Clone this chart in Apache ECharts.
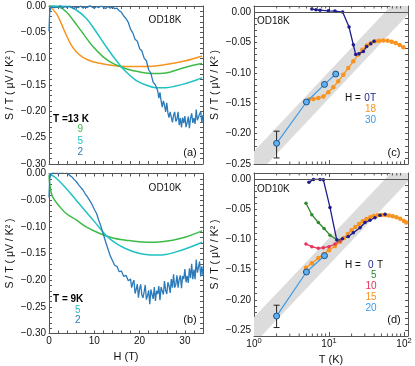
<!DOCTYPE html>
<html>
<head>
<meta charset="utf-8">
<script src="https://cdn.jsdelivr.net/npm/echarts@6/dist/echarts.min.js"></script>
<style>
  html, body { margin: 0; padding: 0; background: #fff; }
  #chart { width: 415px; height: 366px; }
</style>
</head>
<body>
<div id="chart"></div>
<script>
// ---------- (a) OD18K : S/T vs H ----------
const a13K = [[0,0],[1.6,-0.014],[2.7,-0.033],[3.8,-0.055],[4.9,-0.074],[6,-0.087],[7.5,-0.0976],[9.7,-0.106],[12.6,-0.111],[17,-0.115],[21.4,-0.115],[25.8,-0.111],[30.2,-0.104],[33.8,-0.095]];
const a9K = [[0,0],[2.35,-0.0025],[3.8,-0.0108],[5.3,-0.0266],[7.5,-0.052],[9.7,-0.077],[11.9,-0.096],[14.1,-0.109],[17,-0.119],[19.9,-0.125],[22.9,-0.128],[25.8,-0.127],[28.7,-0.120],[31.6,-0.113],[33.8,-0.109]];
const a5K = [[0,0],[3.8,-0.0006],[6,-0.0076],[8.2,-0.0234],[10.4,-0.0488],[12.6,-0.077],[14.8,-0.103],[17,-0.125],[19.2,-0.141],[21.4,-0.150],[23.6,-0.155],[25.8,-0.155],[28,-0.152],[30.2,-0.147],[32.4,-0.141],[33.8,-0.136]];
const a2K = [[0,-0.048],[0.15,-0.012],[0.4,-0.002],[0.8,0.001],[1.2,-0.003],[1.6,0.0],[2,-0.002],[2.5,0.001],[3,-0.004],[3.5,-0.001],[4,-0.003],[4.5,0.0],[5,-0.002],[5.5,-0.005],[6,-0.001],[6.5,-0.003],[7,0.0],[7.5,-0.004],[8,-0.001],[8.5,-0.003],[9,0.001],[9.5,-0.002],[10,-0.004],[10.5,-0.001],[11,-0.003],[11.5,0.0],[12,-0.002],[12.5,-0.005],[13,-0.001],[13.5,-0.004],[14,-0.002],[14.5,-0.005],[15,-0.004],[15.5,-0.009],[16,-0.012],[16.5,-0.019],[17,-0.024],[17.5,-0.031],[18,-0.044],[18.5,-0.051],[19,-0.063],[19.5,-0.067],[20,-0.081],[20.5,-0.085],[21,-0.099],[21.5,-0.104],[22,-0.121],[22.5,-0.128],[23,-0.145],[23.5,-0.150],[24,-0.161],[24.25,-0.175],[24.5,-0.164],[24.75,-0.180],[25,-0.192],[25.25,-0.180],[25.5,-0.188],[25.75,-0.201],[26,-0.184],[26.25,-0.203],[26.5,-0.212],[26.75,-0.201],[27,-0.198],[27.25,-0.221],[27.5,-0.2075],[27.75,-0.201],[28,-0.219],[28.25,-0.215],[28.5,-0.201],[28.75,-0.226],[29,-0.213],[29.25,-0.2305],[29.5,-0.212],[29.75,-0.2225],[30,-0.209],[30.25,-0.230],[30.5,-0.2215],[30.75,-0.210],[31,-0.232],[31.25,-0.213],[31.5,-0.204],[31.75,-0.222],[32,-0.213],[32.25,-0.224],[32.5,-0.1965],[32.75,-0.217],[33,-0.220],[33.25,-0.205],[33.5,-0.2005],[33.75,-0.222],[34,-0.207]];

// ---------- (b) OD10K : S/T vs H ----------
const b9K = [[0,-0.003],[0.5,-0.037],[1.25,-0.050],[2.35,-0.062],[3.8,-0.075],[6,-0.087],[8.2,-0.100],[11.1,-0.112],[14.1,-0.121],[17,-0.125],[19.9,-0.128],[23.6,-0.129],[27.3,-0.125],[30.2,-0.119],[33.1,-0.110],[33.8,-0.107]];
const b5K = [[0,0],[1.6,-0.009],[3.8,-0.028],[6,-0.050],[8.2,-0.072],[10.4,-0.094],[12.6,-0.116],[14.8,-0.131],[17,-0.141],[19.2,-0.148],[21.4,-0.152],[23.6,-0.153],[25.8,-0.152],[28,-0.147],[30.2,-0.141],[32.4,-0.134],[33.8,-0.129]];
const b2K = [[0,-0.045],[0.15,-0.010],[0.4,-0.002],[0.8,0.002],[1.2,0.0],[1.6,0.003],[2,-0.001],[2.5,0.004],[3,0.002],[3.5,0.005],[4,0.001],[4.5,-0.003],[5,-0.006],[5.5,-0.011],[6,-0.015],[6.5,-0.021],[7,-0.026],[7.5,-0.031],[8,-0.038],[8.5,-0.044],[9,-0.051],[9.5,-0.058],[10,-0.067],[10.5,-0.075],[11,-0.088],[11.5,-0.100],[12,-0.114],[12.5,-0.128],[13,-0.141],[13.5,-0.154],[14,-0.163],[14.5,-0.172],[15,-0.174],[15.5,-0.184],[16,-0.183],[16.5,-0.193],[17,-0.191],[17.5,-0.201],[18,-0.198],[18.25,-0.214],[18.5,-0.2055],[18.75,-0.200],[19,-0.225],[19.25,-0.217],[19.5,-0.2075],[19.75,-0.233],[20,-0.216],[20.25,-0.208],[20.5,-0.228],[20.75,-0.233],[21,-0.222],[21.25,-0.209],[21.5,-0.2365],[21.75,-0.229],[22,-0.219],[22.25,-0.245],[22.5,-0.2175],[22.75,-0.227],[23,-0.235],[23.25,-0.213],[23.5,-0.239],[23.75,-0.220],[24,-0.226],[24.25,-0.211],[24.5,-0.2375],[24.75,-0.213],[25,-0.216],[25.25,-0.227],[25.5,-0.2015],[25.75,-0.219],[26,-0.226],[26.25,-0.204],[26.5,-0.2105],[26.75,-0.224],[27,-0.198],[27.25,-0.214],[27.5,-0.189],[27.75,-0.214],[28,-0.208],[28.25,-0.191],[28.5,-0.214],[28.75,-0.198],[29,-0.191],[29.25,-0.215],[29.5,-0.1925],[29.75,-0.198],[30,-0.179],[30.25,-0.204],[30.5,-0.192],[30.75,-0.205],[31,-0.178],[31.25,-0.196],[31.5,-0.1695],[31.75,-0.198],[32,-0.180],[32.25,-0.198],[32.5,-0.1615],[32.75,-0.186],[33,-0.188],[33.25,-0.165],[33.5,-0.193],[33.75,-0.174],[34,-0.191]];

// ---------- (c) OD18K : S/T vs T ----------
const c0T = [[5.9,0.0049],[6.7,0.0038],[7.6,0.0032],[9.8,0.0021],[12,0.0016],[15.2,0.0],[18.5,-0.0247],[21.1,-0.0538],[22.7,-0.070],[25.1,-0.0686],[28.7,-0.0648],[31.8,-0.0566],[36,-0.052],[39.8,-0.048]];
const c18T = [[5.4,-0.144],[6.2,-0.143],[7.2,-0.1415],[8.4,-0.139],[9.8,-0.132],[11.4,-0.1235],[13.3,-0.114],[15.5,-0.103],[18.1,-0.092],[21.1,-0.081],[24.6,-0.070],[27.8,-0.062],[31.8,-0.055],[36,-0.051],[41,-0.048],[46.4,-0.047],[53,-0.0467],[60.5,-0.047],[68.5,-0.049],[77.4,-0.051],[87.5,-0.054],[98,-0.058]];
const c30T = [[2,-0.216],[5,-0.148],[8.7,-0.119],[12.3,-0.102]];
const c30Err = [[2,-0.240,-0.196]];

// ---------- (d) OD10K : S/T vs T ----------
const d0T = [[5.4,-0.0055],[6.2,-0.0006],[7.6,-0.0006],[8.4,-0.001],[10.3,-0.047],[12.7,-0.101],[15.1,-0.099],[18.1,-0.095],[21.1,-0.089],[25.9,-0.0806],[30.2,-0.072],[35.2,-0.0683],[41,-0.064],[47.8,-0.060],[55.8,-0.0583]];
const d5T = [[4.93,-0.040],[5.9,-0.059],[7.2,-0.072],[8.6,-0.082],[10.3,-0.093],[12.9,-0.101]];
const d10T = [[4.93,-0.1076],[5.9,-0.112],[7.2,-0.1148],[8.4,-0.1137],[10,-0.112],[12,-0.1076],[14,-0.1027]];
const d15T = [[4.93,-0.147],[5.9,-0.1396],[7.2,-0.131],[8.6,-0.124],[10,-0.118],[12,-0.111],[14.1,-0.104],[15.8,-0.0975],[17.8,-0.091],[20,-0.085],[22.4,-0.0795],[25.1,-0.0745],[28.2,-0.070],[31.6,-0.066],[35.5,-0.0633],[39.8,-0.0613],[44.7,-0.0601],[50.1,-0.0596],[56.2,-0.0597],[63.1,-0.0603],[70.8,-0.0615],[79.4,-0.0633],[89.1,-0.0658],[100,-0.0695],[107,-0.072]];
const d20T = [[2,-0.227],[5,-0.154],[8.7,-0.127]];
const d20Err = [[2,-0.246,-0.209]];

// grey guide band (log T)
const bandT = [0.8, 150];
const bandUpper = [-0.2417, 0.0561];
const bandLower = [-0.2857, 0.0121];

// log axis minor ticks
const logMinorT = [2,3,4,5,6,7,8,9,20,30,40,50,60,70,80,90];

const C = {
  orange: '#f7931e', green: '#3dbb48', cyan: '#22c1c3', blue: '#2b7bba',
  navy: '#1c1c8c', dgreen: '#2e8b2e', red: '#e5335b', lblue: '#3a9ae8'
};
const axisColor = '#555';
const font = '"Liberation Sans", Arial, sans-serif';

const chart = echarts.init(document.getElementById('chart'));

function yLabel(v) {
  const k = Math.round(v * 100);
  if (k % 5 !== 0) return '';
  return k === 0 ? '0.00' : '\u2212' + Math.abs(v).toFixed(2);
}
function logLabel(v) {
  const e = Math.log10(v);
  if (Math.abs(e - Math.round(e)) > 1e-6) return '';
  return '{b|10}{s|' + Math.round(e) + '}';
}

const tick = { show: true, inside: true, length: 3, lineStyle: { color: axisColor } };
const line = { show: true, onZero: false, lineStyle: { color: axisColor, width: 1 } };
const lbl = { fontSize: 10, color: '#111', fontFamily: font };

function hAxis(grid, pos, showLabels) {
  const ax = {
    type: 'value', gridIndex: grid, position: pos, min: 0, max: 34, interval: 2,
    axisLine: line, axisTick: tick, splitLine: { show: false },
    axisLabel: { show: false }
  };
  if (showLabels) {
    ax.axisLabel = Object.assign({ show: true, margin: 3, formatter: v => (v % 10 === 0 ? String(v) : '') }, lbl);
    ax.name = 'H (T)';
    ax.nameLocation = 'middle';
    ax.nameGap = 18;
    ax.nameTextStyle = { fontSize: 11, color: '#111', fontFamily: font };
  }
  return ax;
}
function tAxis(grid, pos, showLabels) {
  const ax = {
    type: 'log', logBase: 10, gridIndex: grid, position: pos, min: 1, max: 113,
    axisLine: line, axisTick: { show: true, inside: true, length: 4, lineStyle: { color: axisColor } },
    splitLine: { show: false }, minorTick: { show: false },
    axisLabel: { show: false }
  };
  if (showLabels) {
    ax.axisLabel = {
      show: true, margin: 1, formatter: logLabel,
      rich: {
        b: { fontSize: 10, color: '#111', fontFamily: font, lineHeight: 12, verticalAlign: 'bottom' },
        s: { fontSize: 7.5, color: '#111', fontFamily: font, lineHeight: 8, padding: [0, 0, 6, 0], verticalAlign: 'top' }
      }
    };
    ax.name = 'T (K)';
    ax.nameLocation = 'middle';
    ax.nameGap = 18;
    ax.nameTextStyle = { fontSize: 11, color: '#111', fontFamily: font };
  }
  return ax;
}
function vAxis(grid, pos, min, max, showLabels) {
  const ax = {
    type: 'value', gridIndex: grid, position: pos, min, max, interval: 0.01,
    axisLine: line, axisTick: tick, splitLine: { show: false },
    axisLabel: { show: false }
  };
  if (showLabels) {
    ax.axisLabel = Object.assign({ show: true, margin: 3, formatter: yLabel }, lbl);
    ax.name = 'S / T ( \u03bcV / K\u00b2 )';
    ax.nameLocation = 'middle';
    ax.nameGap = 33;
    ax.nameTextStyle = { fontSize: 10.5, color: '#111', fontFamily: font };
  }
  return ax;
}

function curve(ax, data, color, extra) {
  return Object.assign({
    type: 'line', xAxisIndex: ax, yAxisIndex: ax, data, symbol: 'none',
    lineStyle: { color, width: 1.5 }, itemStyle: { color }, z: 3, clip: true
  }, extra || {});
}
function dots(ax, data, color, size, extra) {
  return Object.assign({
    type: 'line', xAxisIndex: ax, yAxisIndex: ax, data, symbol: 'circle', symbolSize: size,
    showSymbol: true, lineStyle: { color, width: 1.3 }, itemStyle: { color }, z: 4, clip: true
  }, extra || {});
}
function band(ax) {
  return {
    type: 'custom', xAxisIndex: ax, yAxisIndex: ax, clip: true, silent: true, z: 1,
    data: [[bandT[0], bandUpper[0]]], encode: { x: 0, y: 1 },
    renderItem: function (params, api) {
      if (params.dataIndex > 0) return;
      const pts = [];
      for (let i = 0; i < bandT.length; i++) pts.push(api.coord([bandT[i], bandUpper[i]]));
      for (let i = bandT.length - 1; i >= 0; i--) pts.push(api.coord([bandT[i], bandLower[i]]));
      return { type: 'polygon', shape: { points: pts }, style: { fill: '#dcdcdc' } };
    }
  };
}
function errBar(ax, data) {
  return {
    type: 'custom', xAxisIndex: ax, yAxisIndex: ax, data, encode: { x: 0, y: [1, 2] }, z: 3, silent: true,
    renderItem: function (params, api) {
      const lo = api.coord([api.value(0), api.value(1)]);
      const hi = api.coord([api.value(0), api.value(2)]);
      const w = 3, st = { stroke: '#222', lineWidth: 1 };
      return { type: 'group', children: [
        { type: 'line', shape: { x1: lo[0], y1: lo[1], x2: hi[0], y2: hi[1] }, style: st },
        { type: 'line', shape: { x1: lo[0] - w, y1: lo[1], x2: lo[0] + w, y2: lo[1] }, style: st },
        { type: 'line', shape: { x1: hi[0] - w, y1: hi[1], x2: hi[0] + w, y2: hi[1] }, style: st }
      ] };
    }
  };
}
function logMinor(ax) {
  return {
    type: 'custom', xAxisIndex: ax, yAxisIndex: ax, silent: true, z: 6,
    data: logMinorT.map(t => [t, 0]), encode: { x: 0, y: 1 },
    renderItem: function (params, api) {
      const x = api.coord([api.value(0), 0])[0];
      const cs = params.coordSys, st = { stroke: axisColor, lineWidth: 1 };
      const yb = cs.y + cs.height, yt = cs.y;
      return { type: 'group', children: [
        { type: 'line', shape: { x1: x, y1: yb, x2: x, y2: yb - 2.5 }, style: st },
        { type: 'line', shape: { x1: x, y1: yt, x2: x, y2: yt + 2.5 }, style: st }
      ] };
    }
  };
}
const zeroLine = {
  silent: true, symbol: ['none', 'none'], label: { show: false },
  lineStyle: { color: '#555', width: 1, type: 'solid' }, data: [{ yAxis: 0 }]
};
const bigDot = { symbolSize: 6, itemStyle: { color: '#62b2f0', borderColor: '#1d4f86', borderWidth: 1 }, lineStyle: { color: C.lblue, width: 1.2 }, z: 5 };

function txt(x, y, text, color, align, extra) {
  return {
    type: 'text', x, y, silent: true, z: 10,
    style: Object.assign({ text, fill: color || '#111', font: '10px ' + font, textAlign: align || 'left', textVerticalAlign: 'middle' }, extra || {})
  };
}
const richLbl = {
  k: { fontSize: 10, fontFamily: font, color: '#111', fontWeight: 'bold' }
};

chart.setOption({
  animation: false,
  grid: [
    { left: 49, top: 6, width: 154, height: 158 },
    { left: 49, top: 173.5, width: 154, height: 160 },
    { left: 254, top: 6, width: 154, height: 158 },
    { left: 254, top: 173, width: 154, height: 163 }
  ],
  xAxis: [
    hAxis(0, 'bottom', false), hAxis(1, 'bottom', true),
    tAxis(2, 'bottom', false), tAxis(3, 'bottom', true),
    hAxis(0, 'top', false), hAxis(1, 'top', false),
    tAxis(2, 'top', false), tAxis(3, 'top', false)
  ],
  yAxis: [
    vAxis(0, 'left', -0.30, 0, true), vAxis(1, 'left', -0.30, 0, true),
    vAxis(2, 'left', -0.25, 0.01, true), vAxis(3, 'left', -0.26, 0.01, true),
    vAxis(0, 'right', -0.30, 0, false), vAxis(1, 'right', -0.30, 0, false),
    vAxis(2, 'right', -0.25, 0.01, false), vAxis(3, 'right', -0.26, 0.01, false)
  ],
  series: [
    // (a)
    curve(0, a13K, C.orange, { smooth: 0.4 }),
    curve(0, a9K, C.green, { smooth: 0.4 }),
    curve(0, a5K, C.cyan, { smooth: 0.4 }),
    curve(0, a2K, C.blue, { lineStyle: { color: C.blue, width: 1.3 } }),
    // (b)
    curve(1, b9K, C.green, { smooth: 0.4 }),
    curve(1, b5K, C.cyan, { smooth: 0.4 }),
    curve(1, b2K, C.blue, { lineStyle: { color: C.blue, width: 1.3 } }),
    // (c)
    band(2), logMinor(2),
    dots(2, c18T, C.orange, 4.5, { markLine: zeroLine }),
    dots(2, c0T, C.navy, 3.5),
    errBar(2, c30Err),
    dots(2, c30T, C.lblue, 6, bigDot),
    // (d)
    band(3), logMinor(3),
    dots(3, d15T, C.orange, 4.5, { markLine: zeroLine }),
    dots(3, d10T, C.red, 3.5),
    dots(3, d5T, C.dgreen, 3.5),
    dots(3, d0T, C.navy, 3.5),
    errBar(3, d20Err),
    dots(3, d20T, C.lblue, 6, bigDot)
  ],
  graphic: [
    // (a)
    txt(165, 20, 'OD18K', '#111', 'center'),
    txt(190, 153, '(a)', '#111', 'center', { font: '11px ' + font }),
    { type: 'text', x: 53, y: 119, silent: true, z: 10, style: { text: '{k|T =}{o|13}{k| K}', textVerticalAlign: 'middle',
      rich: { k: richLbl.k, o: { fontSize: 10, fontFamily: font, color: C.orange, fontWeight: 'bold' } } } },
    txt(83, 129, '9', C.green, 'right'),
    txt(83, 141, '5', C.cyan, 'right'),
    txt(83, 152, '2', C.blue, 'right'),
    // (b)
    txt(165, 188, 'OD10K', '#111', 'center'),
    txt(190, 320, '(b)', '#111', 'center', { font: '11px ' + font }),
    { type: 'text', x: 53, y: 299, silent: true, z: 10, style: { text: '{k|T = }{o|9}{k|K}', textVerticalAlign: 'middle',
      rich: { k: richLbl.k, o: { fontSize: 10, fontFamily: font, color: C.green, fontWeight: 'bold' } } } },
    txt(80.5, 310, '5', C.cyan, 'right'),
    txt(80.5, 320, '2', C.blue, 'right'),
    // (c)
    txt(257, 21, 'OD18K', '#111', 'left'),
    txt(394, 153, '(c)', '#111', 'center', { font: '11px ' + font }),
    txt(345, 98, 'H =', '#111', 'left'),
    txt(376, 98, '0T', C.navy, 'right'),
    txt(376, 109, '18', C.orange, 'right'),
    txt(376, 120, '30', C.lblue, 'right'),
    // (d)
    txt(257, 189, 'OD10K', '#111', 'left'),
    txt(394, 320, '(d)', '#111', 'center', { font: '11px ' + font }),
    txt(345, 265, 'H =', '#111', 'left'),
    txt(373.5, 265, '0', C.navy, 'right'),
    txt(377, 265, 'T', '#111', 'left'),
    txt(376.5, 275, '5', C.dgreen, 'right'),
    txt(376.5, 286, '10', C.red, 'right'),
    txt(376.5, 297, '15', C.orange, 'right'),
    txt(376.5, 308, '20', C.lblue, 'right')
  ]
});
</script>
</body>
</html>
